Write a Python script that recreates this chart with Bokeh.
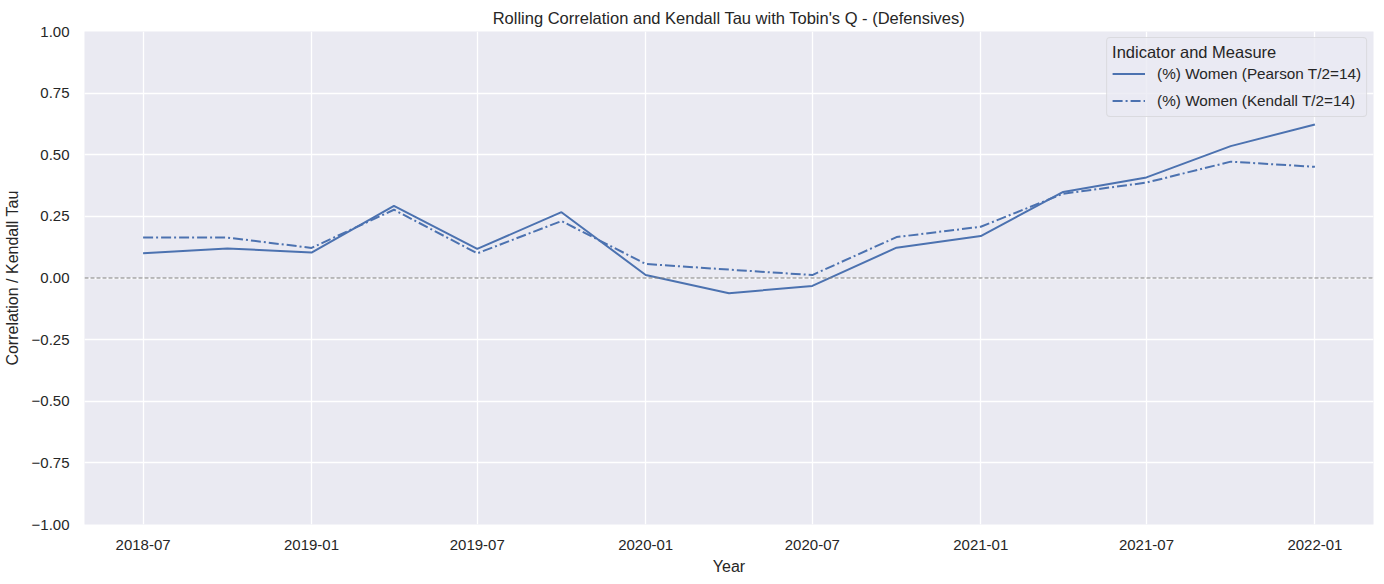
from datetime import datetime
from bokeh.plotting import figure
from bokeh.models import (FixedTicker, DatetimeTickFormatter, CustomJSTickFormatter,
                          Range1d, Span, Legend, LegendItem)
from bokeh.embed import file_html
from bokeh.resources import INLINE

# ---- data ----
dates = ["2018-07-01", "2018-10-01", "2019-01-01", "2019-04-01", "2019-07-01",
         "2019-10-01", "2020-01-01", "2020-04-01", "2020-07-01", "2020-10-01",
         "2021-01-01", "2021-04-01", "2021-07-01", "2021-10-01", "2022-01-01"]
pearson = [0.100, 0.120, 0.103, 0.293, 0.118, 0.267, 0.012, -0.062, -0.032,
           0.123, 0.170, 0.349, 0.408, 0.535, 0.623]
kendall = [0.164, 0.164, 0.122, 0.277, 0.100, 0.231, 0.057, 0.034, 0.012,
           0.166, 0.208, 0.342, 0.387, 0.472, 0.451]
x_tick_labels = ["2018-07", "2019-01", "2019-07", "2020-01", "2020-07",
                 "2021-01", "2021-07", "2022-01"]
y_ticks = [-1.0, -0.75, -0.5, -0.25, 0.0, 0.25, 0.5, 0.75, 1.0]
series_labels = ["(%) Women (Pearson T/2=14)", "(%) Women (Kendall T/2=14)"]

FONT = "Liberation Sans"
BLUE = "#4C72B0"
TEXT = "#262626"

x = [datetime.strptime(d, "%Y-%m-%d") for d in dates]
span = x[-1] - x[0]
pad = span * 0.05
epoch = datetime(1970, 1, 1)
def ms(d):
    return (d - epoch).total_seconds() * 1000.0

p = figure(width=1384, height=584, output_backend="svg", toolbar_location=None,
           x_axis_type="datetime",
           x_range=Range1d(ms(x[0] - pad), ms(x[-1] + pad)),
           y_range=Range1d(-1.0, 1.0),
           title="Rolling Correlation and Kendall Tau with Tobin's Q - (Defensives)",
           min_border_left=83, min_border_right=11, min_border_top=31, min_border_bottom=60)

p.background_fill_color = "#EAEAF2"
p.border_fill_color = "white"
p.outline_line_color = None

p.title.align = "center"
p.title.text_font = FONT
p.title.text_font_size = "16.5px"
p.title.text_font_style = "normal"
p.title.text_color = TEXT

xt = [ms(datetime.strptime(t + "-01", "%Y-%m-%d")) for t in x_tick_labels]
p.xaxis.ticker = FixedTicker(ticks=xt)
p.xaxis.formatter = DatetimeTickFormatter(months="%Y-%m", days="%Y-%m", years="%Y-%m")
p.yaxis.ticker = FixedTicker(ticks=y_ticks)
p.yaxis.formatter = CustomJSTickFormatter(
    code="return (tick < 0 ? '\u2212' : '') + Math.abs(tick).toFixed(2);")

for ax in (p.xaxis, p.yaxis):
    ax.axis_line_color = None
    ax.major_tick_line_color = None
    ax.minor_tick_line_color = None
    ax.major_tick_out = 0
    ax.major_tick_in = 0
    ax.minor_tick_out = 0
    ax.minor_tick_in = 0
    ax.major_label_text_font = FONT
    ax.major_label_text_font_size = "15px"
    ax.major_label_text_color = TEXT
    ax.axis_label_text_font = FONT
    ax.axis_label_text_font_size = "16px"
    ax.axis_label_text_font_style = "normal"
    ax.axis_label_text_color = TEXT
p.xaxis.axis_label = "Year"
p.yaxis.axis_label = "Correlation / Kendall Tau"
p.xaxis.major_label_standoff = 15
p.yaxis.major_label_standoff = 15
p.xaxis.axis_label_standoff = 5
p.yaxis.axis_label_standoff = 8

p.xgrid.grid_line_color = "white"
p.ygrid.grid_line_color = "white"
p.xgrid.grid_line_width = 1.3
p.ygrid.grid_line_width = 1.3

zero = Span(location=0, dimension="width", line_color="#7f7f7f",
            line_dash="4 2", line_width=1.1)
p.add_layout(zero)

r1 = p.line(x, pearson, line_color=BLUE, line_width=2)
r2 = p.line(x, kendall, line_color=BLUE, line_width=2, line_dash="10 3 2 3")

legend = Legend(items=[LegendItem(label=series_labels[0], renderers=[r1]),
                       LegendItem(label=series_labels[1], renderers=[r2])],
                location="top_right")
legend.title = "Indicator and Measure"
legend.title_text_font = FONT
legend.title_text_font_size = "16.5px"
legend.title_text_font_style = "normal"
legend.title_text_color = TEXT
legend.title_standoff = 1
legend.label_text_font = FONT
legend.label_text_font_size = "15.3px"
legend.label_text_color = TEXT
legend.label_height = 21
legend.glyph_height = 21
legend.background_fill_color = "#EAEAF2"
legend.background_fill_alpha = 0.8
legend.border_line_color = "#CCCCCC"
legend.border_radius = 4
legend.margin = 6
legend.padding = 5
legend.spacing = 6
legend.glyph_width = 33
legend.label_standoff = 12
p.add_layout(legend)

open("out.html", "w").write(file_html(p, INLINE))
